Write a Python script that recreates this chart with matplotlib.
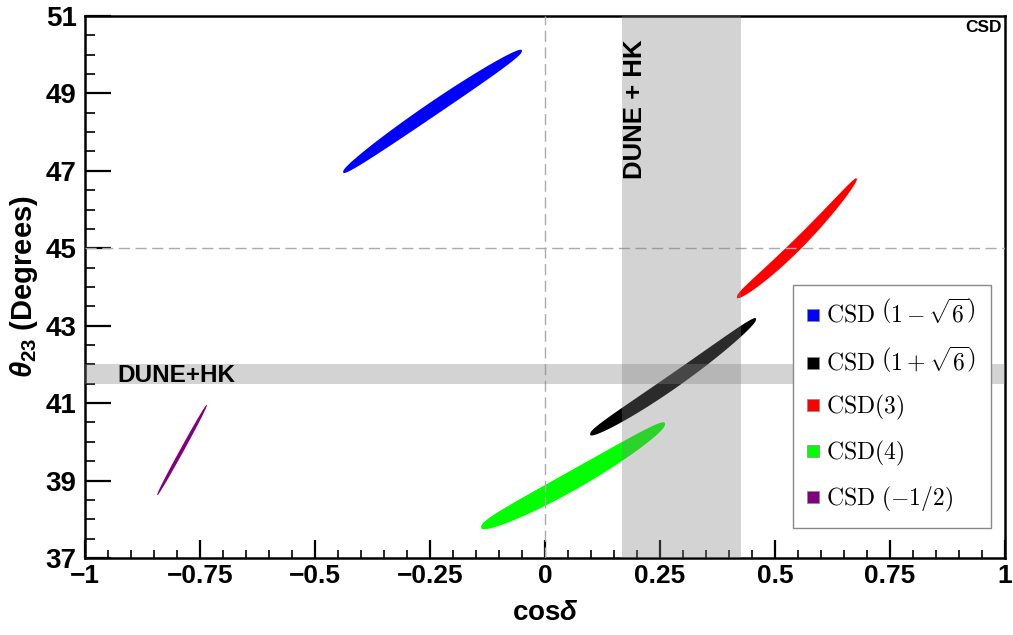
import numpy as np
import matplotlib
matplotlib.use("Agg")
import matplotlib.pyplot as plt
from matplotlib.lines import Line2D
from matplotlib.font_manager import FontProperties

plt.rcParams['font.family'] = ['Liberation Sans', 'DejaVu Sans']
plt.rcParams['font.weight'] = 'bold'
plt.rcParams['mathtext.fontset'] = 'custom'
plt.rcParams['mathtext.rm'] = 'Liberation Sans:bold'
plt.rcParams['mathtext.it'] = 'Liberation Sans:italic:bold'
plt.rcParams['mathtext.bf'] = 'Liberation Sans:bold'

# ---- data ----
labels = [r"$\mathrm{CSD}\ \left(\mathbf{1}-\sqrt{\mathbf{6}}\right)$",
          r"$\mathrm{CSD}\ \left(\mathbf{1}+\sqrt{\mathbf{6}}\right)$",
          r"$\mathrm{CSD}(\mathbf{3})$",
          r"$\mathrm{CSD}(\mathbf{4})$",
          r"$\mathrm{CSD}\ (-\mathbf{1/2})$"]
colors = ['#0000ff', '#000000', '#ff0000', '#00ff00', '#800080']
# allowed region: lower-left end and upper-right end (cos delta, theta23)
cos_start = [-0.439, 0.098, 0.417, -0.139, -0.843]
cos_end = [-0.050, 0.459, 0.678, 0.261, -0.735]
th_start = [46.97, 40.20, 43.74, 37.80, 38.63]
th_end = [50.10, 43.17, 46.79, 40.46, 40.95]
th_thick = [0.42, 0.44, 0.40, 0.56, 0.20]    # vertical thickness at widest (deg)
th_bow = [0.06, -0.12, -0.18, -0.12, 0.0]     # sag of centre line (deg)

dune_cos = [0.167, 0.426]
dune_th = [41.5, 42.0]

xticks = [-1, -0.75, -0.5, -0.25, 0, 0.25, 0.5, 0.75, 1]
xticklabels = ['\u22121', '\u22120.75', '\u22120.5', '\u22120.25', '0', '0.25', '0.5', '0.75', '1']
yticks = [37, 39, 41, 43, 45, 47, 49, 51]

fig = plt.figure(figsize=(10.13, 6.35), dpi=100)
ax = fig.add_axes([85/1013, 1-558/635, 920/1013, 542/635])
ax.set_xlim(-1, 1)
ax.set_ylim(37, 51)

t = np.linspace(0, 1, 400)
for c0, c1, t0, t1, w, b, col in zip(cos_start, cos_end, th_start, th_end, th_thick, th_bow, colors):
    cx = c0 + (c1 - c0) * t
    cy = t0 + (t1 - t0) * t + 4 * b * t * (1 - t)
    half = 0.5 * w * (4 * t * (1 - t)) ** 0.4
    xs = np.concatenate([cx, cx[::-1]])
    ys = np.concatenate([cy + half, (cy - half)[::-1]])
    ax.fill(xs, ys, color=col, lw=0, zorder=2)

# reference dashed lines
ax.axvline(0, color='#aaaaaa', lw=1, ls=(0, (8, 4)), zorder=3)
ax.axhline(45, color='#aaaaaa', lw=1, ls=(0, (8, 4)), zorder=3)

# DUNE + HK bands
ax.axvspan(dune_cos[0], dune_cos[1], color='#7f7f7f', alpha=0.34, lw=0, zorder=4)
ax.axhspan(dune_th[0], dune_th[1], color='#7f7f7f', alpha=0.34, lw=0, zorder=4)

ax.text(0.196, 50.4, 'DUNE + HK', rotation=90, ha='center', va='top',
        fontsize=18.5, fontweight='bold', zorder=6)
ax.text(-0.93, 41.72, 'DUNE+HK', ha='left', va='center',
        fontsize=17.5, fontweight='bold', zorder=6)
ax.text(0.993, 50.7, 'CSD', ha='right', va='center', fontsize=12.5,
        fontweight='bold', zorder=6)

# ticks
ax.set_xticks(xticks)
ax.set_xticklabels(xticklabels)
ax.set_xticks(np.arange(-1, 1.0001, 0.05), minor=True)
ax.set_yticks(yticks)
ax.set_yticks(np.arange(37, 51.0001, 0.5), minor=True)
ax.tick_params(axis='x', which='major', direction='in', length=13, width=1.6,
               labelsize=19, pad=4, top=False)
ax.tick_params(axis='x', which='minor', direction='in', length=6, width=1.2, top=False)
ax.tick_params(axis='y', which='major', direction='in', length=19, width=1.6,
               labelsize=20, pad=6, right=False)
ax.tick_params(axis='y', which='minor', direction='in', length=7, width=1.2, right=False)
for lab in ax.get_xticklabels() + ax.get_yticklabels():
    lab.set_fontweight('bold')
for s in ax.spines.values():
    s.set_linewidth(1.8)

ax.set_xlabel(r'cos$\delta$', fontsize=20, fontweight='bold', labelpad=9)
ax.set_ylabel(r'$\theta_{23}$ (Degrees)', fontsize=21, fontweight='bold', labelpad=4)

handles = [Line2D([], [], ls='none', marker='s', markersize=8, markerfacecolor=c,
                  markeredgecolor='#888888', markeredgewidth=0.5) for c in colors]
prop = FontProperties(family='DejaVu Serif', size=17)
prop.set_math_fontfamily('cm')
leg = ax.legend(handles, labels, loc='upper left', bbox_to_anchor=(0.770, 0.504),
                borderaxespad=0, prop=prop, frameon=True, fancybox=False,
                framealpha=1, edgecolor='#888888', handlelength=0.5,
                handletextpad=0.3, labelspacing=0.72, borderpad=0.6)
leg.get_frame().set_linewidth(1.0)
leg.set_zorder(7)

fig.savefig('out.png', dpi=100)
